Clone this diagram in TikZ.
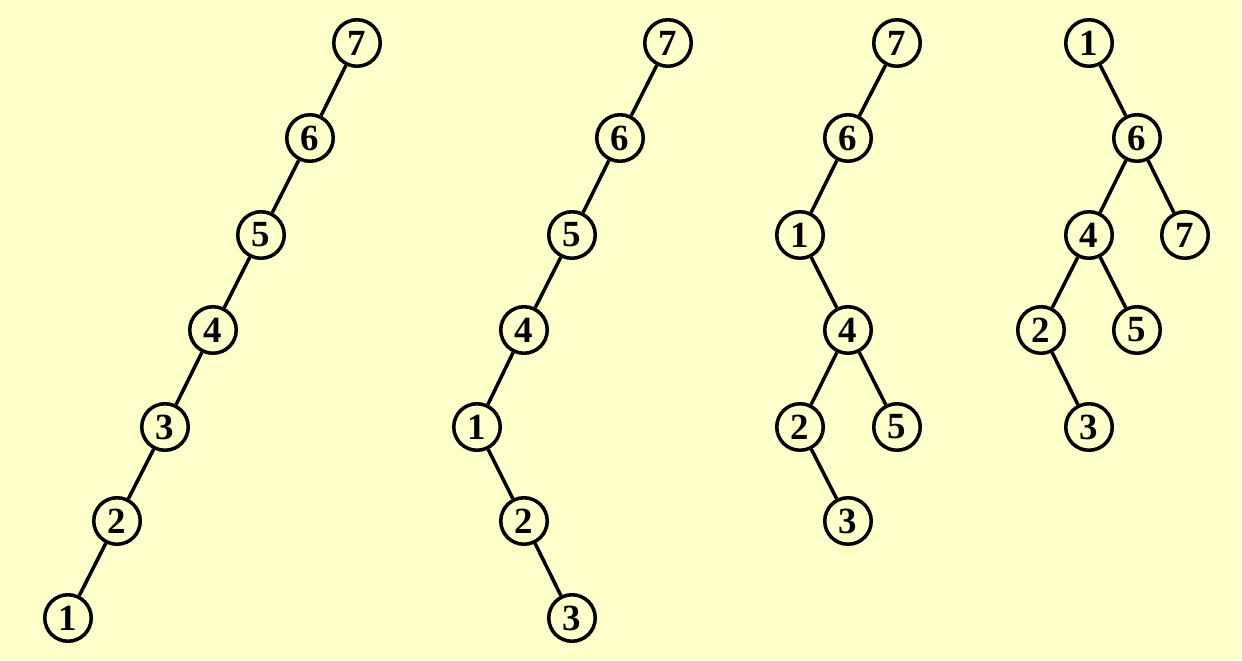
\documentclass[tikz,border=0pt]{standalone}
\usepackage{fontspec}
\setmainfont{Liberation Serif}
\usepackage{xcolor}
\usepackage{tikz}
\usetikzlibrary{positioning}
\definecolor{paleyellow}{RGB}{255, 255, 204}

\begin{document}
\begin{tikzpicture}[
    x=0.02cm, y=-0.02cm,
    key/.style={draw, circle, line width=2pt, minimum size=0.93cm, inner sep=0pt,
                fill=paleyellow, font=\fontsize{21}{24}\selectfont\bfseries},
    link/.style={line width=2pt}
]
    \fill[paleyellow] (0,0) rectangle (1242,660);
    \useasboundingbox (0,0) rectangle (1242,660);

    % first tree: a chain
    \node[key] (aseven) at (357,43) {7};
    \node[key] (asix) at (310,138) {6};
    \node[key] (afive) at (261,235) {5};
    \node[key] (afour) at (213,330) {4};
    \node[key] (athree) at (165,427) {3};
    \node[key] (atwo) at (117,521) {2};
    \node[key] (aone) at (68,618) {1};
    \draw[link] (aseven) -- (asix) -- (afive) -- (afour) -- (athree) -- (atwo) -- (aone);

    % second tree
    \node[key] (bseven) at (668,43) {7};
    \node[key] (bsix) at (620,138) {6};
    \node[key] (bfive) at (572,235) {5};
    \node[key] (bfour) at (524,330) {4};
    \node[key] (bone) at (477,427) {1};
    \node[key] (btwo) at (524,521) {2};
    \node[key] (bthree) at (572,618) {3};
    \draw[link] (bseven) -- (bsix) -- (bfive) -- (bfour) -- (bone) -- (btwo) -- (bthree);

    % third tree
    \node[key] (cseven) at (897,43) {7};
    \node[key] (csix) at (848,138) {6};
    \node[key] (cone) at (800,235) {1};
    \node[key] (cfour) at (848,330) {4};
    \node[key] (ctwo) at (800,427) {2};
    \node[key] (cfive) at (897,427) {5};
    \node[key] (cthree) at (848,521) {3};
    \draw[link] (cseven) -- (csix) -- (cone) -- (cfour) -- (ctwo) -- (cthree);
    \draw[link] (cfour) -- (cfive);

    % fourth tree
    \node[key] (done) at (1089,43) {1};
    \node[key] (dsix) at (1137,138) {6};
    \node[key] (dfour) at (1089,235) {4};
    \node[key] (dseven) at (1185,235) {7};
    \node[key] (dtwo) at (1041,330) {2};
    \node[key] (dfive) at (1137,330) {5};
    \node[key] (dthree) at (1089,427) {3};
    \draw[link] (done) -- (dsix) -- (dfour) -- (dtwo) -- (dthree);
    \draw[link] (dsix) -- (dseven);
    \draw[link] (dfour) -- (dfive);
\end{tikzpicture}
\end{document}
